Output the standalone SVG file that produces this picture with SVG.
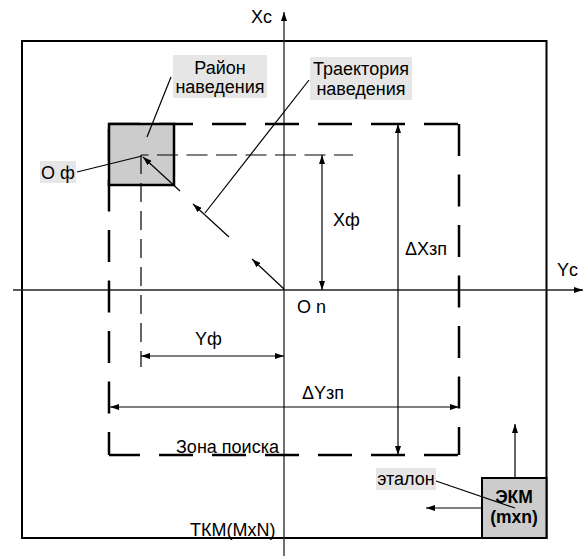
<svg xmlns="http://www.w3.org/2000/svg" width="587" height="556" viewBox="0 0 587 556">
<defs>
<marker id="ah" viewBox="0 0 9 6" refX="9" refY="3" markerWidth="9" markerHeight="6" markerUnits="userSpaceOnUse" orient="auto-start-reverse">
<path d="M0,0 L9,3 L0,6 z" fill="#000"/>
</marker>
</defs>
<style>
text{font-family:"Liberation Sans",Arial,sans-serif;font-size:18px;fill:#000}
.b{font-weight:bold;font-size:17.5px}
.frame{fill:none;stroke:#000;stroke-width:2}
.axis{stroke:#222;stroke-width:1.3;fill:none}
.zh{stroke:#000;stroke-width:2.5;stroke-dasharray:34 19;stroke-dashoffset:3;fill:none}
.zv{stroke:#000;stroke-width:2.5;stroke-dasharray:32 18.5;fill:none}
.thin{stroke:#000;stroke-width:1.2;fill:none}
.arr{stroke:#000;stroke-width:1.2;fill:none;marker-end:url(#ah)}
.dim{stroke:#000;stroke-width:1.2;fill:none;marker-start:url(#ah);marker-end:url(#ah)}
.lab{fill:#e6e6e6}
.grey{fill:#cccccc;stroke:#000;stroke-width:2.5}
</style>
<g id="tkm">
<rect class="frame" x="22" y="41" width="524.5" height="497"/>
<text x="190" y="535.5">ТКМ(MxN)</text>
</g>
<g id="axes">
<line class="axis" x1="284" y1="556" x2="284" y2="12" marker-end="url(#ah)"/>
<line class="axis" x1="13" y1="290" x2="583" y2="290" marker-end="url(#ah)"/>
<text x="251" y="23">Xc</text>
<text x="557" y="276">Yc</text>
<text x="297" y="313">O n</text>
</g>
<g id="zona">
<line class="zh" x1="109" y1="124" x2="460" y2="124"/>
<line class="zh" x1="109" y1="455" x2="460" y2="455"/>
<line class="zv" x1="459" y1="124" x2="459" y2="455"/>
<line class="zv" x1="109" y1="124" x2="109" y2="455" style="stroke-dashoffset:-5"/>
<text x="176" y="452.5">Зона поиска</text>
</g>
<g id="rajon">
<rect class="grey" x="109" y="124" width="65" height="61"/>
</g>
<g id="guides">
<line class="thin" x1="141" y1="155" x2="353" y2="155" style="stroke-dasharray:21 8.5;stroke-dashoffset:13.5"/>
<line class="thin" x1="141" y1="155" x2="141" y2="367" style="stroke-dasharray:19 9"/>
</g>
<g id="dims">
<text x="333" y="226">Xф</text>
<text x="405" y="255">ΔXзп</text>
<text x="195" y="345">Yф</text>
<text x="302" y="399">ΔYзп</text>
</g>
<g id="label-rajon">
<rect class="lab" x="173" y="55" width="94" height="43"/>
<text x="220" y="74" text-anchor="middle">Район</text>
<text x="220" y="93" text-anchor="middle">наведения</text>
</g>
<g id="label-of">
<rect class="lab" x="40" y="161" width="36" height="22"/>
<text x="41" y="179">О ф</text>
</g>
<g id="label-traj">
<rect class="lab" x="310" y="57" width="102" height="43"/>
<text x="361" y="75" text-anchor="middle">Траектория</text>
<text x="361" y="95" text-anchor="middle">наведения</text>
</g>
<g id="ekm">
<rect class="grey" x="482" y="478" width="64.5" height="60" style="stroke-width:2"/>
<text class="b" x="514" y="503" text-anchor="middle">ЭКМ</text>
<text class="b" x="514" y="523" text-anchor="middle">(mxn)</text>
</g>
<g id="label-etalon">
<rect class="lab" x="376" y="468" width="60" height="22"/>
<text x="406" y="485" text-anchor="middle">эталон</text>
</g>
<g id="connectors">
<line class="arr" x1="284" y1="289" x2="252" y2="259"/>
<line class="arr" x1="229" y1="237" x2="193" y2="204"/>
<line class="arr" x1="180" y1="191" x2="143" y2="157"/>
<line class="thin" x1="309" y1="80" x2="205" y2="213"/>
<line class="thin" x1="171" y1="77" x2="147" y2="137"/>
<line class="thin" x1="77" y1="172" x2="142" y2="156"/>
<line class="thin" x1="436" y1="481" x2="515" y2="508"/>
<line class="dim" x1="322" y1="155" x2="322" y2="290"/>
<line class="dim" x1="398" y1="124" x2="398" y2="455"/>
<line class="dim" x1="141" y1="356" x2="284" y2="356"/>
<line class="dim" x1="110" y1="407" x2="459" y2="407"/>
<line class="arr" x1="515" y1="478" x2="515" y2="424"/>
<line class="arr" x1="482" y1="508" x2="426" y2="508"/>
</g>
</svg>
